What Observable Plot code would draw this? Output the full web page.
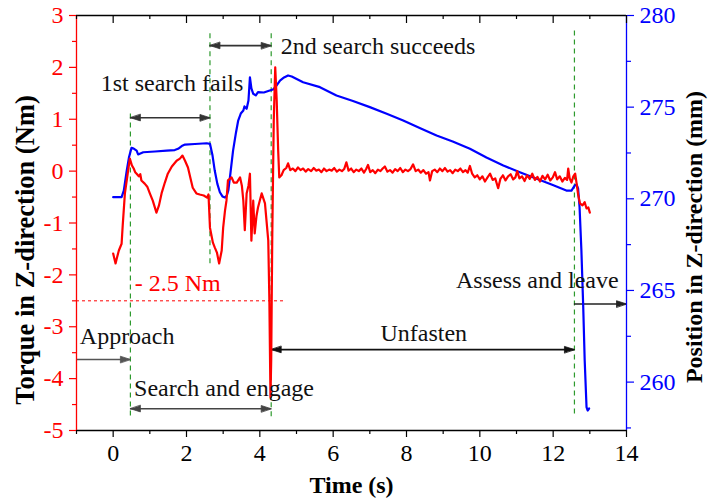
<!DOCTYPE html>
<html><head><meta charset="utf-8">
<script src="https://cdn.jsdelivr.net/npm/d3@7"></script>
<script src="https://cdn.jsdelivr.net/npm/@observablehq/plot@0.6"></script>
<style>body{margin:0;background:#fff} svg{display:block}</style>
</head><body><div id="chart"></div>
<script>
const timeDomain = [-1, 14];
const torqueDomain = [-5, 3];
const positionDomain = [257.36, 280];

const torqueTime = [0.00,0.065,0.10,0.155,0.23,0.26,0.32,0.39,0.455,0.51,0.56,0.60,0.64,0.70,0.74,0.77,0.86,0.93,1.00,1.08,1.18,1.25,1.32,1.41,1.49,1.60,1.73,1.82,1.89,1.96,2.04,2.11,2.17,2.27,2.36,2.47,2.56,2.60,2.64,2.72,2.77,2.83,2.89,2.96,3.00,3.05,3.09,3.13,3.23,3.29,3.37,3.46,3.51,3.55,3.59,3.64,3.69,3.73,3.77,3.82,3.86,3.91,3.95,4.05,4.14,4.23,4.26,4.29,4.31,4.34,4.38,4.42,4.46,4.50,4.53,4.59,
4.65,4.72,4.77,4.83,4.90,4.97,5.04,5.11,5.18,5.25,5.32,5.40,5.47,5.54,5.61,5.68,5.75,5.82,5.89,5.96,6.03,6.10,6.17,6.24,6.30,6.36,6.42,6.49,6.56,6.63,6.70,6.77,6.84,6.90,6.95,7.01,7.08,7.15,7.22,7.29,7.35,7.41,7.48,7.55,7.62,7.69,7.76,7.83,7.90,7.97,8.04,8.11,8.18,8.25,8.32,8.39,8.46,8.53,8.60,8.64,8.70,8.77,8.84,8.91,8.98,9.05,9.12,9.19,9.26,9.33,9.40,9.47,9.54,9.61,9.67,9.73,9.79,9.86,9.93,10.00,10.07,10.14,10.21,10.28,10.35,10.42,10.50,10.56,10.63,10.70,10.77,10.84,10.91,10.97,11.02,11.08,11.15,11.22,11.29,11.36,11.43,11.50,11.57,11.64,11.71,11.78,11.85,11.92,11.99,12.05,12.11,12.18,12.25,12.32,12.38,12.41,12.45,12.50,12.55,12.60,12.64,12.68,12.73,12.80,12.86,12.91,12.96,13.00];
const torqueValue = [-1.59,-1.78,-1.68,-1.53,-1.40,-1.05,-0.43,-0.08,0.24,0.11,0.05,-0.02,-0.05,-0.10,-0.06,-0.18,-0.24,-0.30,-0.43,-0.57,-0.80,-0.66,-0.43,-0.22,-0.05,0.09,0.20,0.24,0.30,0.20,0.07,-0.14,-0.32,-0.43,-0.45,-0.47,-0.51,-0.45,-1.09,-1.38,-1.47,-1.57,-1.78,-1.53,-1.09,-0.76,-0.57,-0.18,-0.12,-0.22,-0.22,-0.12,-0.28,-0.57,-1.14,-0.43,-0.28,-0.05,-1.34,-0.57,-1.20,-0.86,-0.70,-0.43,-0.62,-1.34,-2.49,-4.36,-3.65,-1.20,0.98,2.00,1.36,0.40,-0.12,-0.08,
0.02,0.06,0.15,0.02,0.05,0.00,0.07,0.02,0.05,-0.01,0.04,0.00,0.06,0.01,0.03,-0.02,0.05,0.00,0.03,0.01,0.06,-0.01,0.03,0.00,0.04,0.17,0.01,0.05,-0.02,0.03,0.00,0.05,-0.03,0.04,0.12,-0.02,0.02,-0.04,0.03,0.00,0.05,0.09,-0.01,0.02,-0.03,0.04,0.00,0.06,-0.02,0.03,0.00,0.04,0.13,0.00,0.03,-0.03,0.02,-0.05,-0.02,-0.18,0.00,0.03,-0.02,0.05,0.00,0.06,-0.01,0.02,-0.04,0.03,0.00,0.05,-0.02,0.02,-0.03,0.10,-0.05,-0.12,-0.08,-0.16,-0.10,-0.20,-0.12,-0.05,-0.17,-0.14,-0.33,-0.15,-0.08,-0.18,-0.10,-0.06,-0.16,-0.12,0.00,-0.14,-0.10,-0.19,-0.08,-0.15,-0.05,-0.17,-0.11,-0.20,-0.09,-0.16,-0.07,-0.18,-0.12,-0.02,-0.16,-0.10,-0.20,-0.13,-0.17,0.05,-0.14,-0.22,-0.10,-0.05,-0.24,-0.45,-0.62,-0.66,-0.60,-0.72,-0.70,-0.80];

const positionTime = [0.00,0.23,0.29,0.37,0.43,0.50,0.56,0.64,0.68,0.82,1.14,1.46,1.68,1.77,1.87,1.96,2.23,2.55,2.64,2.71,2.77,2.84,2.91,2.98,3.05,3.10,3.14,3.20,3.27,3.35,3.41,3.48,3.55,3.58,3.64,3.69,3.73,3.77,3.82,3.89,3.95,4.11,4.27,4.36,4.44,4.55,4.66,4.77,4.87,5.18,5.64,6.09,6.54,7.00,7.46,7.91,8.36,8.82,9.26,9.73,10.18,10.64,11.09,11.55,11.99,12.36,12.50,12.59,12.64,12.68,12.72,12.77,12.82,12.86,12.91,12.94,12.98];
const positionValue = [270.09,270.09,270.45,271.54,272.25,272.78,272.74,272.63,272.42,272.54,272.58,272.63,272.66,272.73,272.88,272.96,272.99,273.03,273.00,272.36,271.54,270.83,270.36,270.13,270.07,270.18,270.45,271.43,272.63,273.62,274.27,274.65,274.82,275.04,274.91,275.36,276.63,276.02,275.73,275.64,275.82,275.80,275.91,275.96,276.13,276.45,276.62,276.73,276.67,276.36,276.09,275.64,275.34,275.00,274.64,274.27,273.86,273.45,273.13,272.73,272.25,271.82,271.45,271.09,270.75,270.45,270.45,270.73,270.78,270.56,269.54,267.18,264.09,261.18,258.63,258.45,258.56];

const xMajorTicks = [0, 2, 4, 6, 8, 10, 12, 14];
const xMinorTicks = [-1, 1, 3, 5, 7, 9, 11, 13];
const torqueTicks = [-5, -4, -3, -2, -1, 0, 1, 2, 3];
const torqueMinorTicks = [-4.5, -3.5, -2.5, -1.5, -0.5, 0.5, 1.5, 2.5];
const positionTicks = [260, 265, 270, 275, 280];
const positionMinorTicks = [257.5, 262.5, 267.5, 272.5, 277.5];

const phaseTime = [0.47, 2.64, 4.31, 12.58];
const phaseTop = [1.1, 2.65, 2.65, 2.7];
const phaseBottom = [-4.72, -1.85, -4.75, -4.75];

const thresholdTorque = -2.5;
const thresholdEnd = 4.68;
const thresholdLabel = "- 2.5 Nm";
const thresholdLabelAt = [0.59, -2.31];

const annotationText = ["1st search fails", "2nd search succeeds", "Approach", "Search and engage", "Unfasten", "Assess and leave"];
const annotationTime = [-0.34, 4.57, -0.91, 0.57, 7.29, 9.35];
const annotationTorque = [1.55, 2.26, -3.34, -4.33, -3.28, -2.26];

const arrowStart = [0.47, 2.64, -1, 0.47, 4.31, 12.58];
const arrowEnd = [2.64, 4.31, 0.47, 4.31, 12.58, 14];
const arrowLevel = [1.03, 2.42, -3.63, -4.58, -3.44, -2.56];
const arrowBoth = [true, true, false, true, true, false];
const arrowColor = ["#333", "#333", "#555", "#444", "#111", "#222"];

const RED = "#ff0000", BLUE = "#0000ff", GREEN = "#2e9a2e";
const FONT = "Liberation Serif";

const toTorque = d3.scaleLinear(positionDomain, torqueDomain);
const torqueData = torqueTime.map((t, i) => ({t, v: torqueValue[i]}));
const positionData = positionTime.map((t, i) => ({t, v: toTorque(positionValue[i])}));
const phases = phaseTime.map((t, i) => ({t, top: phaseTop[i], bottom: phaseBottom[i]}));
const annotations = annotationText.map((s, i) => ({s, t: annotationTime[i], v: annotationTorque[i]}));
const arrows = arrowStart.map((a, i) => ({a, b: arrowEnd[i], v: arrowLevel[i], both: arrowBoth[i], c: arrowColor[i]}));
const heads = arrows.flatMap(d => d.both ? [{t: d.b, v: d.v, r: 90, c: d.c}, {t: d.a, v: d.v, r: -90, c: d.c}] : [{t: d.b, v: d.v, r: 90, c: d.c}]);

const triangle = {draw(ctx, l, r) { ctx.moveTo(0, -l); ctx.lineTo(-r, 0); ctx.lineTo(r, 0); ctx.closePath(); }};

const chart = Plot.plot({
  width: 708, height: 499,
  marginLeft: 76, marginRight: 82, marginTop: 15, marginBottom: 69,
  style: {fontFamily: FONT, fontSize: "24px", background: "white", overflow: "visible"},
  x: {domain: timeDomain},
  y: {domain: torqueDomain},
  marks: [
    Plot.ruleX(phases, {x: "t", y1: "top", y2: "bottom", stroke: GREEN, strokeWidth: 1.2, strokeDasharray: "5,4"}),
    Plot.ruleY([thresholdTorque], {x1: timeDomain[0], x2: thresholdEnd, stroke: RED, strokeWidth: 1, strokeDasharray: "3,3"}),
    Plot.ruleY(arrows, {y: "v", x1: "a", x2: "b", stroke: "c", strokeWidth: 1.6}),
    Plot.vector(heads, {x: "t", y: "v", rotate: "r", length: 10, r: 3.2, anchor: "end", shape: triangle, fill: "c", stroke: "c", strokeWidth: 0.8}),
    Plot.line(positionData, {x: "t", y: "v", stroke: BLUE, strokeWidth: 2.2}),
    Plot.line(torqueData, {x: "t", y: "v", stroke: RED, strokeWidth: 2.2}),
    Plot.text(annotations, {x: "t", y: "v", text: "s", textAnchor: "start", lineAnchor: "bottom", fontSize: 24, fill: "#111"}),
    Plot.text([thresholdLabel], {x: thresholdLabelAt[0], y: thresholdLabelAt[1], text: d => d, textAnchor: "start", lineAnchor: "bottom", fontSize: 24, fill: RED}),
    // frame
    Plot.ruleY([torqueDomain[0], torqueDomain[1]], {stroke: "#000", strokeWidth: 1.3}),
    Plot.ruleX([timeDomain[0]], {stroke: RED, strokeWidth: 1.3}),
    Plot.ruleX([timeDomain[1]], {stroke: BLUE, strokeWidth: 1.3}),
    // top inward ticks
    Plot.ruleX(xMajorTicks, {x: d => d, y1: torqueDomain[1], y2: torqueDomain[1], insetBottom: -8, stroke: "#000", strokeWidth: 1.2}),
    Plot.ruleX(xMinorTicks, {x: d => d, y1: torqueDomain[1], y2: torqueDomain[1], insetBottom: -4, stroke: "#000", strokeWidth: 1.2}),
    // bottom axis
    Plot.axisX({ticks: xMajorTicks, anchor: "bottom", tickSize: 7, tickPadding: 6, tickFormat: d => String(d), label: null, fontSize: 24, color: "#000", strokeWidth: 1.2}),
    Plot.axisX({ticks: xMinorTicks, anchor: "bottom", tickSize: 4, fill: "none", stroke: "#000", label: null, strokeWidth: 1.2}),
    // left axis
    Plot.axisY({ticks: torqueTicks, anchor: "left", tickSize: 7, tickPadding: 6, tickFormat: d => String(d), label: null, fontSize: 24, color: RED, strokeWidth: 1.2}),
    Plot.axisY({ticks: torqueMinorTicks, anchor: "left", tickSize: 4, fill: "none", stroke: RED, label: null, strokeWidth: 1.2}),
    // right axis
    Plot.axisY({ticks: positionTicks.map(toTorque), anchor: "right", tickSize: 7, tickPadding: 6, tickFormat: (d, i) => String(positionTicks[i]), label: null, fontSize: 24, color: BLUE, strokeWidth: 1.2}),
    Plot.axisY({ticks: positionMinorTicks.map(toTorque), anchor: "right", tickSize: 4, fill: "none", stroke: BLUE, label: null, strokeWidth: 1.2}),
    // axis titles
    Plot.text(["Time (s)"], {frameAnchor: "bottom", text: d => d, dy: 55, textAnchor: "middle", lineAnchor: "middle", fontWeight: "bold", fontSize: 24, fill: "#000"}),
    Plot.text(["Torque in Z-direction (Nm)"], {frameAnchor: "left", text: d => d, dx: -51, dy: 27, rotate: -90, textAnchor: "middle", lineAnchor: "middle", fontWeight: "bold", fontSize: 26.5, fill: "#000"}),
    Plot.text(["Position in Z-direction (mm)"], {frameAnchor: "right", text: d => d, dx: 68, dy: 14, rotate: -90, textAnchor: "middle", lineAnchor: "middle", fontWeight: "bold", fontSize: 24, fill: "#000"})
  ]
});
document.getElementById("chart").append(chart);
</script>
</body></html>
